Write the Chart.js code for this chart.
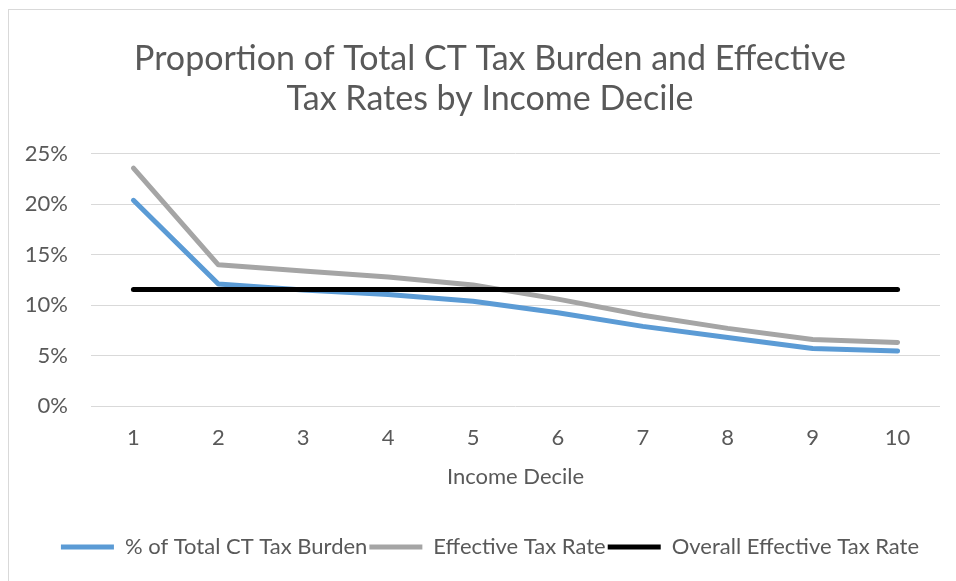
<!DOCTYPE html>
<html>
<head>
<meta charset="utf-8">
<script src="https://cdn.jsdelivr.net/npm/chart.js@4"></script>
<style>
  html, body { margin:0; padding:0; background:#fff; overflow:hidden; }
  #frame { position:absolute; left:8px; top:9px; width:962px; height:590px;
           border:1px solid #d9d9d9; box-sizing:border-box; background:#fff; }
  #wrap { position:absolute; left:0; top:0; width:962px; height:572px; }
</style>
</head>
<body>
<div id="frame"><div id="wrap"><canvas id="chart"></canvas></div></div>
<script>
// income deciles and series (percent)
const deciles = ['1','2','3','4','5','6','7','8','9','10'];
const shareOfBurden = [20.4, 12.1, 11.5, 11.05, 10.4, 9.25, 7.9, 6.8, 5.7, 5.45];
const effectiveRate = [23.6, 14.0, 13.4, 12.8, 12.0, 10.6, 9.0, 7.7, 6.6, 6.3];
const overallRate = [11.55, 11.55, 11.55, 11.55, 11.55, 11.55, 11.55, 11.55, 11.55, 11.55];
const yTicks = [0, 5, 10, 15, 20, 25];

const FONT = 'Lato';
const TXT = '#595959';

function line(label, data, color, order){
  return {
    label, data, borderColor:color, backgroundColor:color,
    borderWidth:5, pointRadius:0, tension:0, order,
    borderCapStyle:'round', borderJoinStyle:'round'
  };
}

const ctx = document.getElementById('chart');
new Chart(ctx, {
  type:'line',
  data:{
    labels: deciles,
    datasets:[
      line('% of Total CT Tax Burden', shareOfBurden, '#5b9bd5', 3),
      line('Effective Tax Rate', effectiveRate, '#a5a5a5', 2),
      line('Overall Effective Tax Rate', overallRate, '#000000', 1)
    ]
  },
  options:{
    responsive:true, maintainAspectRatio:false, animation:false,
    layout:{ padding:{ left:0, right:0, top:0, bottom:14 } },
    plugins:{
      title:{
        display:true,
        text:['Proportion of Total CT Tax Burden and Effective', 'Tax Rates by Income Decile'],
        color:TXT, font:{ family:FONT, size:34, weight:'normal', lineHeight:1.176 },
        padding:{ top:29, bottom:35 }
      },
      legend:{
        position:'bottom',
        labels:{
          color:TXT, font:{ family:FONT, size:22 },
          boxWidth:53, boxHeight:5, padding:2,
          generateLabels(chart){
            return chart.data.datasets.map((d,i)=>({
              text:d.label, fillStyle:d.borderColor, strokeStyle:d.borderColor,
              lineWidth:0, fontColor:TXT, datasetIndex:i, hidden:false
            }));
          }
        }
      },
      tooltip:{ enabled:false }
    },
    scales:{
      x:{
        offset:true,
        grid:{ display:false, drawTicks:false },
        border:{ display:false },
        afterFit(s){ s.height = 128; },
        ticks:{ color:TXT, font:{ family:FONT, size:22 }, padding:19 },
        title:{ display:true, text:'Income Decile', color:TXT,
                font:{ family:FONT, size:22 }, padding:{ top:12, bottom:44 } }
      },
      y:{
        min:0, max:25,
        afterBuildTicks(s){ s.ticks = yTicks.map(v=>({value:v})); },
        afterFit(s){ s.width = 82; },
        grid:{ color:'#d9d9d9', lineWidth:1, drawTicks:false },
        border:{ display:false },
        ticks:{ color:TXT, font:{ family:FONT, size:22 }, padding:23,
                callback:v => v + '%' }
      },
      // empty right-hand spacer so the plot stops short of the frame
      spacer:{
        position:'right', min:0, max:1,
        grid:{ display:false, drawTicks:false },
        border:{ display:false },
        ticks:{ display:false },
        afterFit(s){ s.width = 31; }
      }
    }
  }
});
</script>
</body>
</html>
